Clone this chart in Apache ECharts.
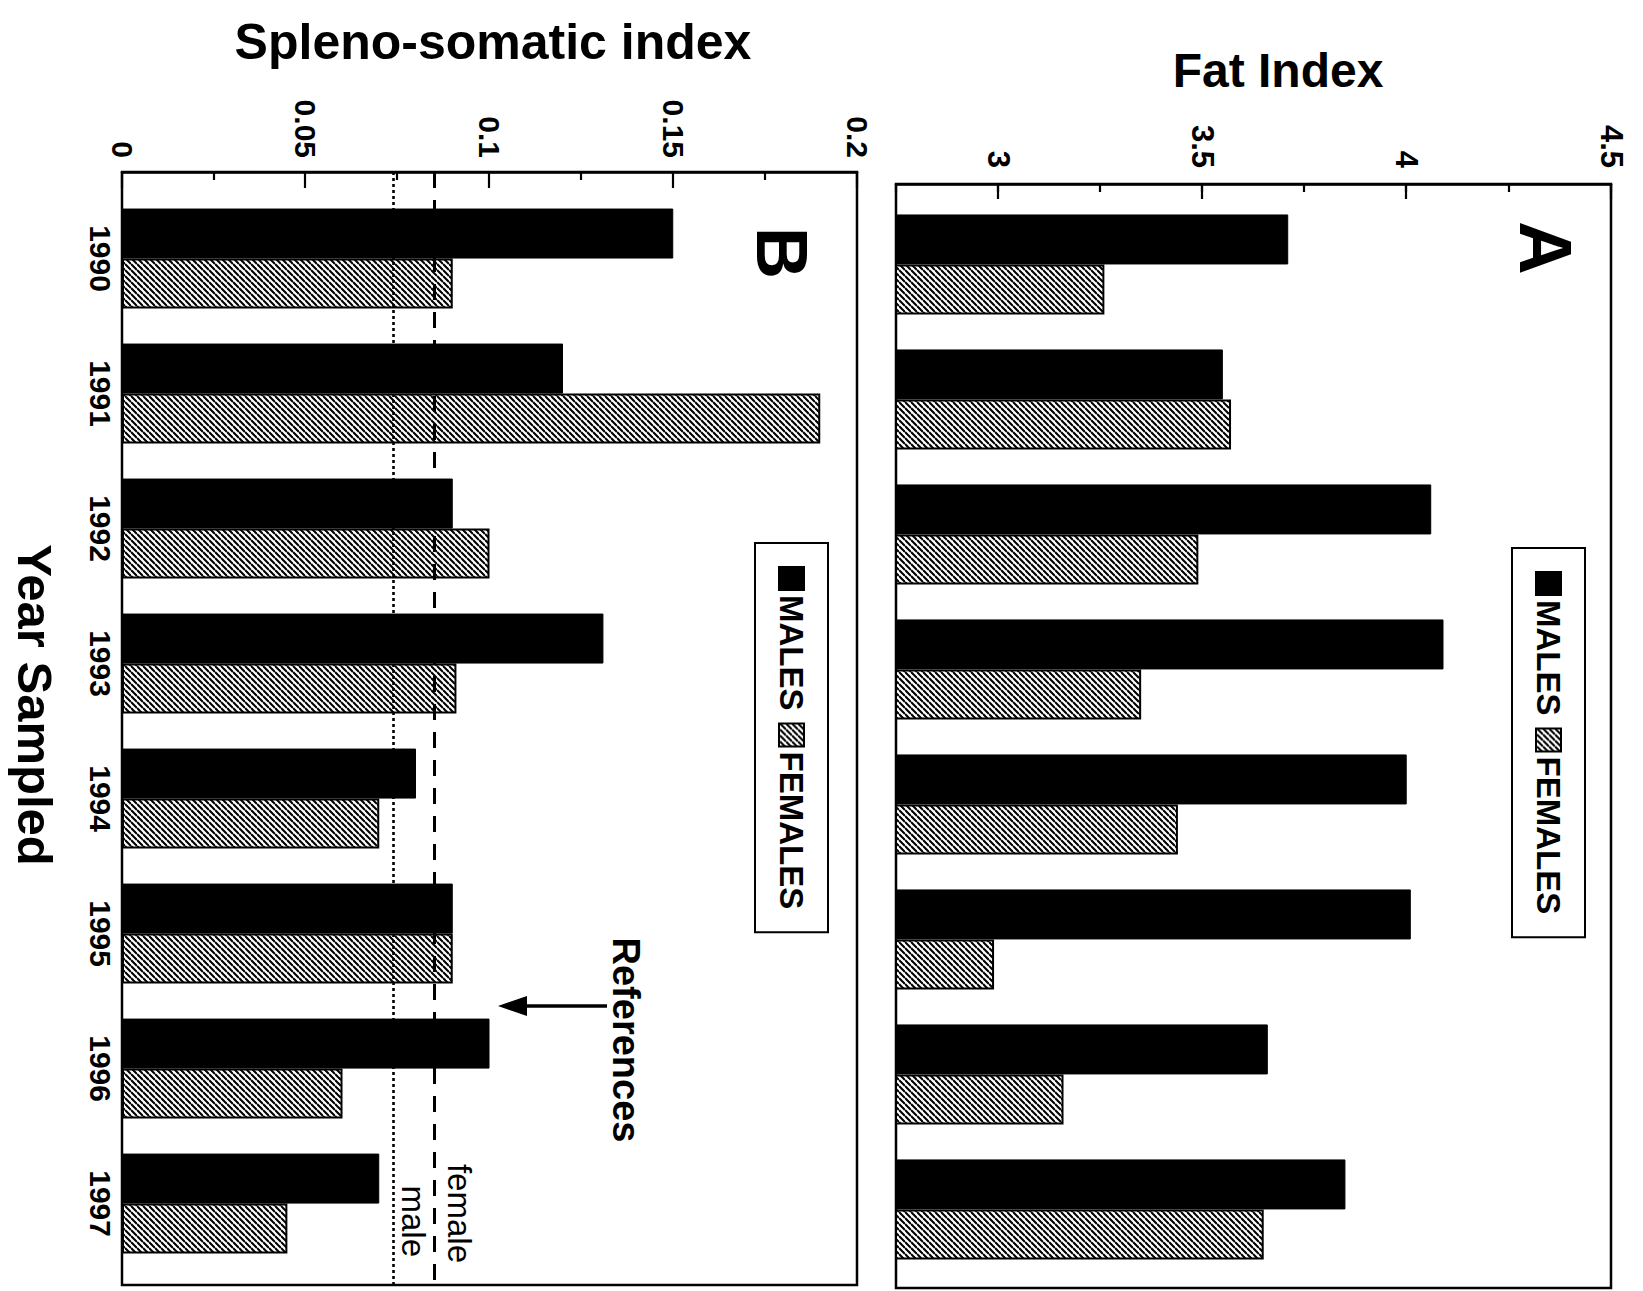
<!DOCTYPE html>
<html>
<head>
<meta charset="utf-8">
<script src="https://cdn.jsdelivr.net/npm/echarts@6/dist/echarts.min.js"></script>
<style>
  html, body { margin: 0; padding: 0; background: #fff; overflow: hidden; }
  #stage { position: absolute; left: 0; top: 0; width: 1643px; height: 1291px; overflow: hidden; background: #fff; }
  #wrap { position: absolute; left: 0; top: 0; width: 1291px; height: 1643px;
          transform-origin: 0 0; transform: translate(1643px, 0) rotate(90deg); }
</style>
</head>
<body>
<div id="stage"><div id="wrap"></div></div>
<script>
// ---- data ----
const years = [1990, 1991, 1992, 1993, 1994, 1995, 1996, 1997];
const fatMales   = [3.71, 3.55, 4.06, 4.09, 4.00, 4.01, 3.66, 3.85];
const fatFemales = [3.26, 3.57, 3.49, 3.35, 3.44, 2.99, 3.16, 3.65];
const ssiMales   = [0.150, 0.120, 0.090, 0.131, 0.080, 0.090, 0.100, 0.070];
const ssiFemales = [0.090, 0.190, 0.100, 0.091, 0.070, 0.090, 0.060, 0.045];
const refNames   = ['female', 'male'];
const refValues  = [0.085, 0.074];
const fatTickLabels = [3, 3.5, 4, 4.5];
const seriesNames = ['MALES', 'FEMALES'];

const FONT = "'Liberation Sans', Arial, Helvetica, sans-serif";

// hatch pattern
const pc = document.createElement('canvas');
pc.width = 6; pc.height = 6;
const pctx = pc.getContext('2d');
pctx.fillStyle = '#fff'; pctx.fillRect(0, 0, 6, 6);
pctx.strokeStyle = '#000'; pctx.lineWidth = 2.1;
pctx.beginPath();
[-6, 0, 6].forEach(k => { pctx.moveTo(k, 6); pctx.lineTo(k + 6, 0); });
pctx.stroke();
const hatch = { image: pc, repeat: 'repeat' };

const pairs = vals => years.map((y, i) => [y, vals[i]]);

const chart = echarts.init(document.getElementById('wrap'), null, { renderer: 'svg', width: 1291, height: 1643 });

const valueAxisCommon = {
  type: 'value', position: 'left', splitLine: { show: false },
  axisLine: { show: true, lineStyle: { color: '#000', width: 2.5 } },
};
const legendCommon = {
  orient: 'horizontal', icon: 'rect', itemWidth: 23, itemHeight: 25, itemGap: 12,
  selectedMode: false, borderColor: '#000', borderWidth: 2, padding: [20, 23],
  backgroundColor: '#fff',
  textStyle: { fontFamily: FONT, fontSize: 33, fontWeight: 'bold', color: '#000' },
  data: seriesNames
};

chart.setOption({
  animation: false,
  backgroundColor: '#fff',
  grid: [
    { left: 184, top: 32, width: 1104, height: 715, show: true, borderColor: '#000', borderWidth: 2.5, backgroundColor: 'transparent' },
    { left: 172, top: 786, width: 1113, height: 735, show: true, borderColor: '#000', borderWidth: 2.5, backgroundColor: 'transparent' }
  ],
  xAxis: [
    { type: 'value', gridIndex: 0, min: 1989.404, max: 1997.582,
      axisLine: { show: false }, axisTick: { show: false }, axisLabel: { show: false }, splitLine: { show: false } },
    { type: 'value', gridIndex: 1, min: 1989.359, max: 1997.603,
      axisLine: { show: false }, axisTick: { show: false }, splitLine: { show: false },
      axisLabel: { show: true, customValues: years, margin: 7, fontFamily: FONT, fontSize: 30, fontWeight: 'bold', color: '#000',
                   formatter: v => String(v) } }
  ],
  yAxis: [
    Object.assign({}, valueAxisCommon, { gridIndex: 0, min: 2.75, max: 4.5,
      axisTick: { show: true, inside: true, length: 15, customValues: fatTickLabels, lineStyle: { color: '#000', width: 2.2 } },
      axisLabel: { show: true, customValues: fatTickLabels, margin: 16, fontFamily: FONT, fontSize: 31, fontWeight: 'bold', color: '#000' } }),
    { type: 'value', position: 'left', gridIndex: 0, min: 2.75, max: 4.5, interval: 0.25,
      axisLine: { show: false }, splitLine: { show: false }, axisLabel: { show: false },
      axisTick: { show: true, inside: true, length: 8, lineStyle: { color: '#000', width: 2.2 } } },
    Object.assign({}, valueAxisCommon, { gridIndex: 1, min: 0, max: 0.2, interval: 0.05,
      axisTick: { show: true, inside: true, length: 16, lineStyle: { color: '#000', width: 2.2 } },
      minorTick: { show: true, splitNumber: 2, length: 8, lineStyle: { color: '#000', width: 2.2 } },
      axisLabel: { show: true, margin: 14, fontFamily: FONT, fontSize: 30, fontWeight: 'bold', color: '#000' } })
  ],
  legend: [
    Object.assign({}, legendCommon, { left: 548, top: 58 }),
    Object.assign({}, legendCommon, { left: 543, top: 815 })
  ],
  series: [
    { name: seriesNames[0], type: 'bar', xAxisIndex: 0, yAxisIndex: 0, data: pairs(fatMales),
      barWidth: 50, barGap: '0%', itemStyle: { color: '#000', borderColor: '#000', borderWidth: 1 } },
    { name: seriesNames[1], type: 'bar', xAxisIndex: 0, yAxisIndex: 0, data: pairs(fatFemales),
      barWidth: 50, barGap: '0%', itemStyle: { color: hatch, borderColor: '#000', borderWidth: 2 } },
    { name: seriesNames[0], type: 'bar', xAxisIndex: 1, yAxisIndex: 2, data: pairs(ssiMales),
      barWidth: 50, barGap: '0%', itemStyle: { color: '#000', borderColor: '#000', borderWidth: 1 } },
    { name: seriesNames[1], type: 'bar', xAxisIndex: 1, yAxisIndex: 2, data: pairs(ssiFemales),
      barWidth: 50, barGap: '0%', itemStyle: { color: hatch, borderColor: '#000', borderWidth: 2 },
      markLine: {
        silent: true, symbol: 'none', animation: false, precision: 4,
        label: { show: true, position: 'insideEndTop', formatter: '{b}', fontFamily: FONT, fontSize: 33, color: '#000' },
        data: [
          { name: refNames[0], yAxis: refValues[0], lineStyle: { color: '#000', type: [16, 12], width: 3 }, label: { distance: [22, 9] } },
          { name: refNames[1], yAxis: refValues[1], lineStyle: { color: '#000', type: [3, 3], width: 2.6 }, label: { distance: [28, 3] } }
        ]
      } }
  ],
  graphic: [
    { type: 'text', x: 70, y: 365, rotation: Math.PI / 2,
      style: { text: 'Fat Index', font: "bold 48px " + FONT, fill: '#000', align: 'center', verticalAlign: 'middle' } },
    { type: 'text', x: 42, y: 1150, rotation: Math.PI / 2,
      style: { text: 'Spleno-somatic index', font: "bold 50px " + FONT, fill: '#000', align: 'center', verticalAlign: 'middle' } },
    { type: 'text', x: 705, y: 1608,
      style: { text: 'Year Sampled', font: "bold 49px " + FONT, fill: '#000', align: 'center', verticalAlign: 'middle' } },
    { type: 'text', x: 248, y: 98,
      style: { text: 'A', font: "bold 74px " + FONT, fill: '#000', align: 'center', verticalAlign: 'middle' } },
    { type: 'text', x: 253, y: 861,
      style: { text: 'B', font: "bold 72px " + FONT, fill: '#000', align: 'center', verticalAlign: 'middle' } },
    { type: 'text', x: 1040, y: 1017,
      style: { text: 'References', font: "bold 38px " + FONT, fill: '#000', align: 'center', verticalAlign: 'middle' } },
    { type: 'line', shape: { x1: 1006, y1: 1036, x2: 1006, y2: 1122 }, style: { stroke: '#000', lineWidth: 3.5 } },
    { type: 'polygon', shape: { points: [[1006, 1145], [996, 1116], [1016, 1116]] }, style: { fill: '#000' } }
  ]
});
</script>
</body>
</html>
